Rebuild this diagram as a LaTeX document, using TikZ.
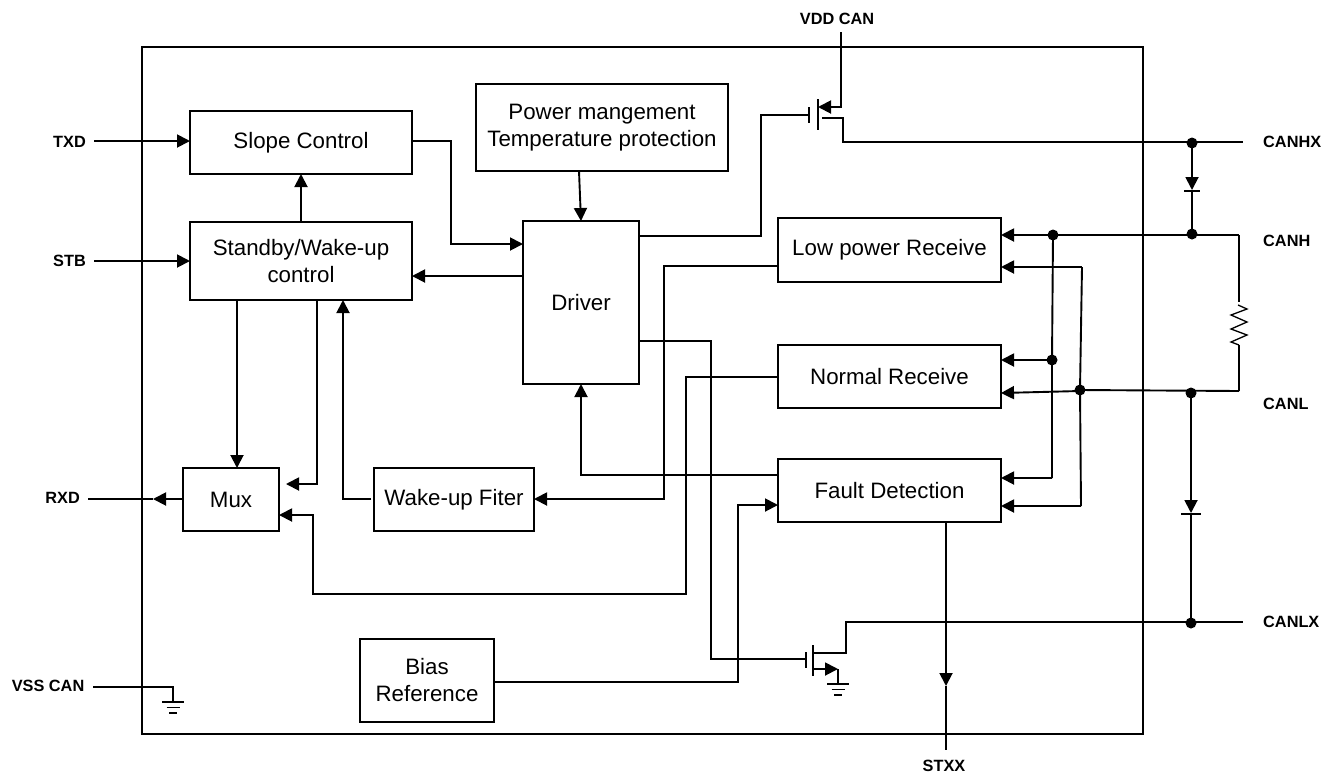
\documentclass[tikz,border=0pt]{standalone}
\usepackage{fontspec}
\setmainfont{Liberation Sans}
\usetikzlibrary{arrows.meta,calc}
\tikzset{
  x=1pt,y=-1pt,
  wire/.style={line width=1.9pt,line join=miter},
  thin wire/.style={line width=1.3pt},
  arr/.style={wire,-{Triangle[length=13pt,width=13pt]}},
  blk/.style={draw,line width=1.9pt,align=center,inner sep=0pt,outer sep=0pt,font=\fontsize{22.3}{27}\selectfont},
  pin/.style={font=\fontsize{16.3}{18}\selectfont\bfseries,inner sep=0pt},
  jn/.style={circle,fill=black,minimum size=11pt,inner sep=0pt,outer sep=0pt},
}
\newcommand{\blkbox}[6]{\node[blk,minimum width={(#4-#2)*1pt},minimum height={(#5-#3)*1pt}] (#1) at ({(#2+#4)/2},{(#3+#5)/2}) {#6};}
\newcommand{\gnd}[2]{%
  \draw[wire] (#1-11,#2) -- (#1+11,#2);
  \draw[wire] (#1-6.5,#2+5.5) -- (#1+6.5,#2+5.5);
  \draw[wire] (#1-4,#2+11) -- (#1+4,#2+11);}
\begin{document}
\begin{tikzpicture}
\useasboundingbox (0,0) rectangle (1336,772);
% outer
\node[draw,line width=1.9pt,minimum width=1001pt,minimum height=687pt,inner sep=0pt,outer sep=0pt] (chip) at (642.5,390.5) {};
% blocks
\blkbox{slope}{190}{111}{412}{174}{Slope Control}
\blkbox{standby}{190}{222}{412}{300}{Standby/Wake-up\\control}
\blkbox{power}{476}{84}{728}{171}{Power mangement\\Temperature protection}
\blkbox{driver}{523}{221}{639}{384}{Driver}
\blkbox{lowp}{778}{218}{1001}{282}{Low power Receive}
\blkbox{normal}{778}{345}{1001}{408}{Normal Receive}
\blkbox{fault}{778}{459}{1001}{522}{Fault Detection}
\blkbox{mux}{183}{468}{279}{531}{Mux}
\blkbox{wake}{374}{468}{534}{531}{Wake-up Fiter}
\blkbox{bias}{360}{639}{494}{722}{Bias\\Reference}
% pin labels
\node[pin,anchor=east] (ltxd) at (86,141.5) {TXD};
\node[pin,anchor=east] (lstb) at (86,261) {STB};
\node[pin,anchor=east] (lrxd) at (80,498) {RXD};
\node[pin,anchor=east] (lvss) at (84.5,686) {VSS CAN};
\node[pin] (lvdd) at (837,19) {VDD CAN};
\node[pin] (lstxx) at (944,765.5) {STXX};
\node[pin,anchor=west] (lhx) at (1263,142) {CANHX};
\node[pin,anchor=west] (lh) at (1263,241) {CANH};
\node[pin,anchor=west] (ll) at (1263,404) {CANL};
\node[pin,anchor=west] (llx) at (1263,622) {CANLX};
% junctions
\node[jn] (jhx) at (1192,143) {};
\node[jn] (jh) at (1192,234) {};
\node[jn] (jh2) at (1053,235) {};
\node[jn] (jn1) at (1052,360) {};
\node[jn] (jl2) at (1080,390) {};
\node[jn] (jl) at (1191,393) {};
\node[jn] (jlx) at (1191,623) {};
% ports
\coordinate (txdin) at (94,141);
\coordinate (stbin) at (94,261);
\coordinate (rxdout) at (88,499);
\coordinate (vssin) at (93,687);
\coordinate (vddin) at (841,32);
\coordinate (stxxout) at (946,750);
\coordinate (hxout) at (1243,142);
\coordinate (cornerh) at (1239,235);
\coordinate (cornerl) at (1239,391);
\coordinate (lxout) at (1243,622);
% left side
\draw[arr] (txdin) -- (slope.west |- txdin);
\draw[arr] (stbin) -- (standby.west |- stbin);
\draw[arr] (mux.west |- rxdout) -- (153,499);
\draw[wire] (153,499) -- (rxdout);
\draw[wire] (vssin) -- (173,687) -- (173,702);
\gnd{173}{702}
% logic
\draw[arr] (301,222) -- (301,174);
\draw[arr] (slope.east |- 0,141) -- (451,141) -- (451,244) -- (driver.west |- 0,244);
\draw[arr] (579,171) -- (581,221);
\draw[arr] (driver.west |- 0,276) -- (standby.east |- 0,276);
\draw[arr] (237,300) -- (237,468);
\draw[arr] (317,300) -- (317,484) -- (286,484);
\draw[arr] (371,499) -- (343,499) -- (343,300);
\draw[arr] (lowp.west |- 0,266) -- (664,266) -- (664,499) -- (wake.east |- 0,499);
\draw[arr] (normal.west |- 0,377) -- (686,377) -- (686,594) -- (313,594) -- (313,515) -- (mux.east |- 0,515);
\draw[arr] (fault.west |- 0,475) -- (581,475) -- (581,384);
\draw[arr] (bias.east |- 0,682) -- (738,682) -- (738,505) -- (fault.west |- 0,505);
\draw[wire] (driver.east |- 0,236) -- (761,236) -- (761,115) -- (809,115);
\draw[wire] (driver.east |- 0,341) -- (711,341) -- (711,659) -- (806,659);
% top transistor
\draw[wire] (809,107) -- (809,123);
\draw[wire] (818,99) -- (818,130);
\draw[arr] (vddin) -- (841,107) -- (818,107);
\draw[wire] (822,118) -- (843,118) -- (843,142) -- (hxout);
% bottom transistor
\draw[wire] (806,652) -- (806,668);
\draw[wire] (813,645) -- (813,676);
\draw[wire] (813,653) -- (846,653) -- (846,622) -- (lxout);
\draw[wire] (813,669) -- (825,669);
\draw[arr] (820,669) -- (838,669);
\draw[wire] (838,669) -- (838,684);
\gnd{838}{684}
% fault out
\draw[arr] (fault.south -| 946,0) -- (946,686);
\draw[wire] (946,686) -- (stxxout);
% right side
\draw[arr] (jhx.center) -- (1192,190);
\draw[wire] (1184,191) -- (1200,191);
\draw[wire] (1192,191) -- (jh.center);
\draw[arr] (cornerh) -- (lowp.east |- cornerh);
\draw[wire] (jh2.center) -- (jn1.center) -- (1052,478);
\draw[arr] (1052,478) -- (fault.east |- 0,478);
\draw[arr] (jn1.center) -- (normal.east |- jn1);
\draw[arr] (1082,267) -- (lowp.east |- 0,267);
\draw[wire] (1082,267) -- (jl2.center) -- (1081,506);
\draw[arr] (1081,506) -- (fault.east |- 0,506);
\draw[arr] (jl2.center) ++(0,1) -- (normal.east |- 0,393);
\draw[wire] (jl2.center) -- (cornerl);
\draw[arr] (jl.center) -- (1191,513);
\draw[wire] (1181,514) -- (1201,514);
\draw[wire] (1191,513) -- (jlx.center);
% resistor
\draw[wire] (cornerh) -- (1239,302);
\draw[thin wire] (1238,305) -- (1247,309) -- (1231,315) -- (1247,322) -- (1231,329) -- (1247,335) -- (1231,342) -- (1239,345);
\draw[wire] (1239,345) -- (cornerl);
\end{tikzpicture}
\end{document}
